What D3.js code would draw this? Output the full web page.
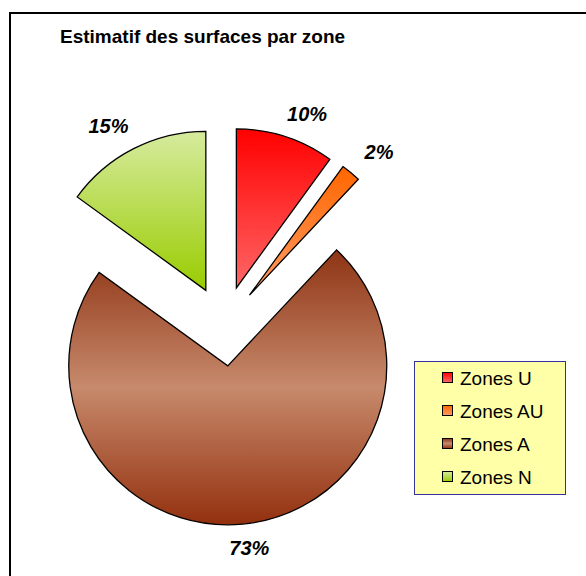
<!DOCTYPE html>
<html>
<head>
<meta charset="utf-8">
<script src="https://cdn.jsdelivr.net/npm/d3@7"></script>
<style>
  html, body { margin: 0; padding: 0; background: #fff; }
  svg { display: block; font-family: Arial, "Liberation Sans", sans-serif; }
</style>
</head>
<body>
<svg id="chart" width="586" height="576"></svg>
<script>
// Surface share by zone
const zones = ["Zones U", "Zones AU", "Zones A", "Zones N"];
const shares = [10, 2, 73, 15];
const labels = ["10%", "2%", "73%", "15%"];

// Vertical gradient stops for each zone (top → bottom)
const gradientStops = [
  [["0%", "#ff0000"], ["100%", "#ff6666"]],
  [["0%", "#ff6600"], ["100%", "#ff9c66"]],
  [["0%", "#8e3414"], ["50%", "#c78a6c"], ["100%", "#93300e"]],
  [["0%", "#d6eb9e"], ["100%", "#99cc00"]]
];

const svg = d3.select("#chart");
const W = 586, H = 576;

// Chart frame
svg.append("rect")
  .attr("x", 10).attr("y", 13)
  .attr("width", W).attr("height", H)
  .attr("fill", "#fff").attr("stroke", "#000").attr("stroke-width", 2);

// Title
svg.append("text")
  .attr("x", 60).attr("y", 43)
  .attr("font-size", 19).attr("font-weight", "bold")
  .attr("fill", "#000")
  .text("Estimatif des surfaces par zone");

const defs = svg.append("defs");
gradientStops.forEach((stops, i) => {
  const g = defs.append("linearGradient")
    .attr("id", "grad" + i)
    .attr("x1", 0).attr("y1", 0).attr("x2", 0).attr("y2", 1);
  stops.forEach(s => g.append("stop").attr("offset", s[0]).attr("stop-color", s[1]));
});

// Pie layout: starts at 12 o'clock, clockwise, no sorting
const cx = 224, cy = 326, radius = 159, explode = 40;
const pie = d3.pie().sort(null).value(d => d);
const arcs = pie(shares);
const arc = d3.arc().innerRadius(0).outerRadius(radius);

const g = svg.append("g").attr("transform", `translate(${cx},${cy})`);

arcs.forEach((a, i) => {
  const mid = (a.startAngle + a.endAngle) / 2;
  const dx = Math.sin(mid) * explode, dy = -Math.cos(mid) * explode;
  g.append("path")
    .attr("d", arc(a))
    .attr("transform", `translate(${dx},${dy})`)
    .attr("fill", `url(#grad${i})`)
    .attr("stroke", "#000")
    .attr("stroke-width", 1.3)
    .attr("stroke-linejoin", "miter");
});

// Percentage labels, outside the end of each slice
const labelRadius = 215, labelW = 36, labelH = 16;
arcs.forEach((a, i) => {
  const mid = (a.startAngle + a.endAngle) / 2;
  const sx = Math.sin(mid), sy = -Math.cos(mid);
  const kx = Math.max(-1, Math.min(1, sx * 3));
  const x = sx * labelRadius + kx * labelW / 2;
  const y = sy * labelRadius + Math.sign(sy) * labelH / 2;
  g.append("text")
    .attr("x", x).attr("y", y)
    .attr("dy", "0.35em")
    .attr("text-anchor", "middle")
    .attr("font-size", 20).attr("font-weight", "bold").attr("font-style", "italic")
    .attr("fill", "#000")
    .text(labels[i]);
});

// Legend
const legend = svg.append("g");
legend.append("rect")
  .attr("x", 414.5).attr("y", 361.5)
  .attr("width", 151).attr("height", 133)
  .attr("fill", "#ffffa8").attr("stroke", "#333399").attr("stroke-width", 1);

const rowY = d3.scalePoint().domain(zones).range([378, 477]);
zones.forEach((z, i) => {
  const y = rowY(z);
  legend.append("rect")
    .attr("x", 442.5).attr("y", y - 5.5)
    .attr("width", 10).attr("height", 10)
    .attr("fill", `url(#grad${i})`)
    .attr("stroke", "#000").attr("stroke-width", 1);
  legend.append("text")
    .attr("x", 460).attr("y", y)
    .attr("dy", "0.36em")
    .attr("font-size", 19)
    .attr("fill", "#000")
    .text(z);
});
</script>
</body>
</html>
